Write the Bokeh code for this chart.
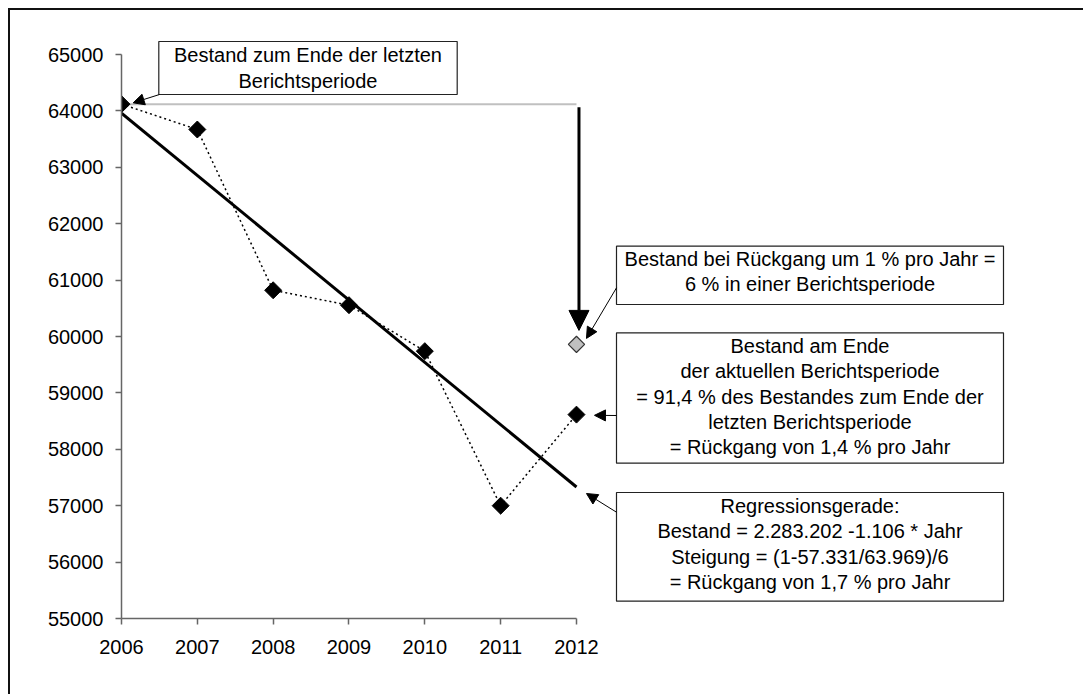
import numpy as np
from bokeh.plotting import figure
from bokeh.models import Range1d, FixedTicker, Arrow, NormalHead
from bokeh.core.properties import value
from bokeh.embed import file_html
from bokeh.resources import INLINE

# ---------------- data ----------------
years = [2006, 2007, 2008, 2009, 2010, 2011, 2012]
bestand = [64120, 63670, 60820, 60555, 59740, 57000, 58615]
bestand_1pct_2012 = 59860          # gray point: decline 1 % p.a.
y_ticks = [55000, 56000, 57000, 58000, 59000, 60000, 61000, 62000, 63000, 64000, 65000]
x_ticks = years

box1_lines = ["Bestand zum Ende der letzten", "Berichtsperiode"]
box2_lines = ["Bestand bei Rückgang um 1 % pro Jahr =", "6 % in einer Berichtsperiode"]
box3_lines = ["Bestand am Ende", "der aktuellen Berichtsperiode",
              "= 91,4 % des Bestandes zum Ende der", "letzten Berichtsperiode",
              "= Rückgang von 1,4 % pro Jahr"]
box4_lines = ["Regressionsgerade:", "Bestand = 2.283.202 -1.106 * Jahr",
              "Steigung = (1-57.331/63.969)/6", "= Rückgang von 1,7 % pro Jahr"]

# regression line from the data
slope, intercept = np.polyfit(years, bestand, 1)
reg_y = [slope * years[0] + intercept, slope * years[-1] + intercept]

# ---------------- layout (pixels) ----------------
MARGIN, BORDER = 8, 2
PAGE_OFF = MARGIN + BORDER
W, H = 1075, 686
MB_L, MB_T, MB_B = 111, 2, H - (618 - PAGE_OFF)
FRAME_L = PAGE_OFF + MB_L
FRAME_B = PAGE_OFF + H - MB_B
MB_R = 2
FRAME_W = W - MB_L - MB_R
FRAME_H = H - MB_T - MB_B
XPP = 75.83          # px per year
YPP = 0.0564         # px per unit
x0, y0 = years[0], y_ticks[0]

def dx(px):
    return x0 + (px - FRAME_L) / XPP

def dy(py):
    return y0 + (FRAME_B - py) / YPP

def ox(px):
    return px / XPP

FONT = "Liberation Sans"

p = figure(width=W, height=H, output_backend="svg", toolbar_location=None,
           x_range=Range1d(x0, x0 + FRAME_W / XPP),
           y_range=Range1d(y0, y0 + FRAME_H / YPP),
           min_border_left=MB_L, min_border_top=MB_T,
           min_border_bottom=MB_B, min_border_right=MB_R)
p.styles = {"margin-top": f"{MARGIN}px", "margin-left": f"{MARGIN}px",
            "border-top": f"{BORDER}px solid #111", "border-left": f"{BORDER}px solid #111"}
p.outline_line_color = None
p.xgrid.visible = False
p.ygrid.visible = False
p.background_fill_color = "white"
p.border_fill_color = "white"

for ax, ticks in ((p.xaxis[0], x_ticks), (p.yaxis[0], y_ticks)):
    ax.ticker = FixedTicker(ticks=ticks)
    ax.bounds = (ticks[0], ticks[-1])
    ax.axis_line_color = "#666666"
    ax.axis_line_width = 1.5
    ax.major_tick_line_color = "#666666"
    ax.major_tick_line_width = 1.5
    ax.major_tick_out = 6
    ax.major_tick_in = 0
    ax.minor_tick_line_color = None
    ax.major_label_text_font = FONT
    ax.major_label_text_font_size = "20px"
    ax.major_label_text_color = "black"
p.xaxis[0].major_label_standoff = 15
p.yaxis[0].major_label_standoff = 12

# gray reference line
p.line([years[0], years[-1]], [bestand[0], bestand[0]], line_color="#c0c0c0", line_width=2)

# regression line
p.line([years[0], years[-1]], reg_y, line_color="black", line_width=3)

# dotted line through the data
p.line(years, bestand, line_color="black", line_width=1.5, line_dash="2 3")

# thick arrow down
p.add_layout(Arrow(end=NormalHead(size=20, fill_color="black", line_color="black"),
                   x_start=years[-1] + ox(2.5), y_start=bestand[0] - 3 / YPP,
                   x_end=years[-1] + ox(2.5), y_end=bestand_1pct_2012 + 14 / YPP,
                   line_color="black", line_width=3))

# markers
p.scatter(years, bestand, marker="square", size=12, angle=np.pi / 4,
          fill_color="black", line_color="black")
p.scatter([years[-1]], [bestand_1pct_2012], marker="square", size=11.5, angle=np.pi / 4,
          fill_color="#c0c0c0", line_color="#333333", line_width=1.2)

# text boxes (pixel layout)
boxes = [
    (box1_lines, 158.3, 456.7, 41.0, 94.0, 26.7),
    (box2_lines, 616.0, 1003.0, 245.7, 304.0, 25.0),
    (box3_lines, 616.0, 1003.0, 332.3, 462.7, 25.4),
    (box4_lines, 616.0, 1003.0, 492.0, 600.7, 25.6),
]
for lines, l, r, t, b, step in boxes:
    p.quad(left=[dx(l)], right=[dx(r)], top=[dy(t)], bottom=[dy(b)],
           fill_color="white", line_color="#222222", line_width=1.2)
    cx = dx((l + r) / 2)
    ys = [dy(t + 13.0 + i * step) for i in range(len(lines))]
    p.text([cx] * len(lines), ys, text=lines, text_align="center",
           text_baseline="middle", text_font=value(FONT),
           text_font_size="20px", text_color="black")

# annotation arrows (start in px, tip relative to data point)
def add_arrow(sx, sy, tx, ty):
    p.add_layout(Arrow(end=NormalHead(size=11, fill_color="black", line_color="black"),
                       x_start=dx(sx), y_start=dy(sy), x_end=tx, y_end=ty,
                       line_color="black", line_width=1))

add_arrow(159.0, 94.0, years[0] + ox(11.7), bestand[0] + 1.3 / YPP)
add_arrow(616.0, 287.3, years[-1] + ox(10), bestand_1pct_2012 + 6 / YPP)
add_arrow(616.0, 415.0, years[-1] + ox(18), bestand[-1] - 0.7 / YPP)
add_arrow(616.0, 511.7, years[-1] + ox(10), reg_y[1] - 6.5 / YPP)

open("out.html", "w").write(file_html(p, INLINE))
